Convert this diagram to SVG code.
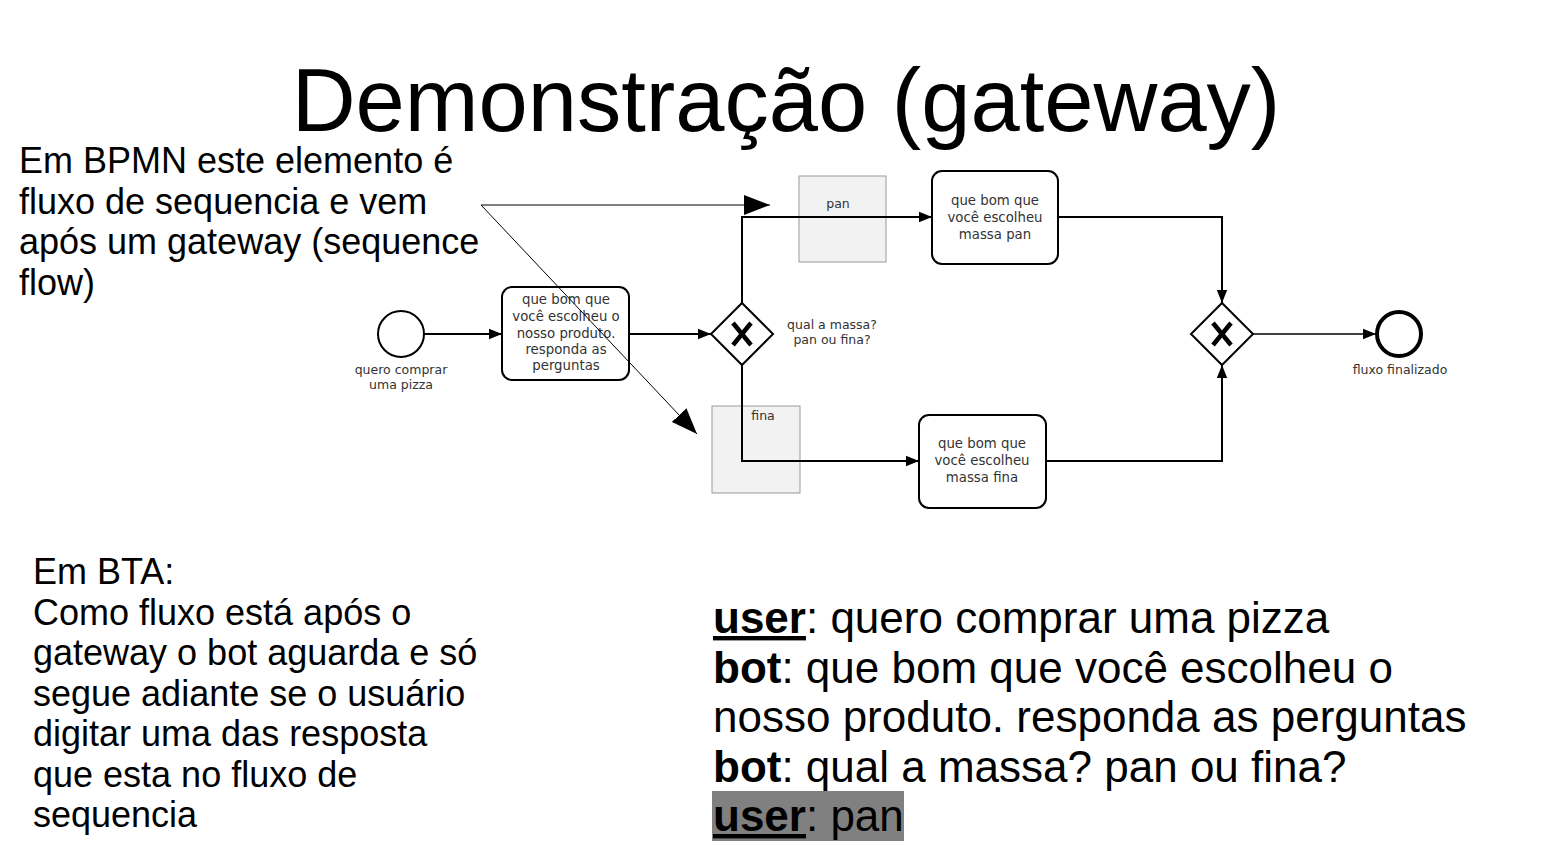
<svg xmlns="http://www.w3.org/2000/svg" width="1566" height="866" viewBox="0 0 1566 866">
<defs>
<marker id="arrA" viewBox="0 0 10 10" refX="10" refY="5" markerWidth="26" markerHeight="20" orient="auto" markerUnits="userSpaceOnUse" preserveAspectRatio="none">
<path d="M0,0 L10,5 L0,10 Z" fill="#000"/>
</marker>
<marker id="arrF" viewBox="0 0 10 10" refX="10" refY="5" markerWidth="13" markerHeight="13" orient="auto" markerUnits="userSpaceOnUse">
<path d="M0,1 L10,5 L0,9 Z" fill="#000"/>
</marker>
</defs>
<style>
.big{font-family:"Liberation Sans",Arial,sans-serif;fill:#000}
.sm{font-family:"DejaVu Sans",Verdana,sans-serif;font-size:12.5px;fill:#333;text-anchor:middle}
.tt{font-size:13.3px}
.task{fill:#fff;stroke:#000;stroke-width:2}
.lbl{fill:#f2f2f2;stroke:#999;stroke-width:1}
.flow{fill:none;stroke:#000;stroke-width:2}
.gw{fill:#fff;stroke:#000;stroke-width:2}
.x{fill:none;stroke:#000;stroke-width:4.5}
</style>
<rect width="1566" height="866" fill="#fff"/>
<text class="big" x="786" y="131" font-size="88.5" text-anchor="middle">Demonstração (gateway)</text>
<g id="note1">
<text class="big" font-size="36"><tspan x="19" y="173">Em BPMN este elemento é</tspan><tspan x="19" y="213.5">fluxo de sequencia e vem</tspan><tspan x="19" y="254">após um gateway (sequence</tspan><tspan x="19" y="294.5">flow)</tspan></text>
</g>
<g id="start">
<circle cx="401" cy="334" r="23" fill="#fff" stroke="#000" stroke-width="2"/>
<text class="sm"><tspan x="401" y="374">quero comprar</tspan><tspan x="401" y="389">uma pizza</tspan></text>
</g>
<g id="task1">
<rect class="task" x="502" y="287" width="127" height="93" rx="10"/>
<text class="sm tt"><tspan x="566" y="304">que bom que</tspan><tspan x="566" y="321">você escolheu o</tspan><tspan x="566" y="338">nosso produto.</tspan><tspan x="566" y="354">responda as</tspan><tspan x="566" y="370">perguntas</tspan></text>
</g>
<g id="labelPan">
<rect class="lbl" x="799" y="176" width="87" height="86"/>
<text class="sm" x="838" y="208">pan</text>
</g>
<g id="labelFina">
<rect class="lbl" x="712" y="406" width="88" height="87"/>
<text class="sm" x="763" y="420">fina</text>
</g>
<g id="connectors">
<path class="flow" d="M424,334 L502,334" marker-end="url(#arrF)"/>
<path class="flow" d="M629,334 L711,334" marker-end="url(#arrF)"/>
<path class="flow" d="M742,303 L742,217 L932,217" marker-end="url(#arrF)"/>
<path class="flow" d="M742,365 L742,461 L919,461" marker-end="url(#arrF)"/>
<path class="flow" d="M1058,217 L1222,217 L1222,303" marker-end="url(#arrF)"/>
<path class="flow" d="M1046,461 L1222,461 L1222,365" marker-end="url(#arrF)"/>
<path fill="none" stroke="#000" stroke-width="1.5" d="M1253,334 L1376,334" marker-end="url(#arrF)"/>
<path fill="none" stroke="#000" stroke-width="1" d="M481,205 L770,205" marker-end="url(#arrA)"/>
<path fill="none" stroke="#000" stroke-width="1" d="M481,205 L697,434" marker-end="url(#arrA)"/>
</g>
<g id="gateway1">
<path class="gw" d="M742,303 L773,334 L742,365 L711,334 Z"/>
<path class="x" d="M733,323 L751,345 M751,323 L733,345"/>
<text class="sm"><tspan x="832" y="329">qual a massa?</tspan><tspan x="832" y="344">pan ou fina?</tspan></text>
</g>
<g id="taskPan">
<rect class="task" x="932" y="171" width="126" height="93" rx="10"/>
<text class="sm tt"><tspan x="995" y="205">que bom que</tspan><tspan x="995" y="222">você escolheu</tspan><tspan x="995" y="239">massa pan</tspan></text>
</g>
<g id="taskFina">
<rect class="task" x="919" y="415" width="127" height="93" rx="10"/>
<text class="sm tt"><tspan x="982" y="448">que bom que</tspan><tspan x="982" y="465">você escolheu</tspan><tspan x="982" y="482">massa fina</tspan></text>
</g>
<g id="gateway2">
<path class="gw" d="M1222,303 L1253,334 L1222,365 L1191,334 Z"/>
<path class="x" d="M1213,323 L1231,345 M1231,323 L1213,345"/>
</g>
<g id="end">
<circle cx="1399" cy="334" r="22" fill="#fff" stroke="#000" stroke-width="4"/>
<text class="sm" x="1400" y="374">fluxo finalizado</text>
</g>
<g id="note2">
<text class="big" font-size="36"><tspan x="33" y="584">Em BTA:</tspan><tspan x="33" y="624.5">Como fluxo está após o</tspan><tspan x="33" y="665">gateway o bot aguarda e só</tspan><tspan x="33" y="705.5">segue adiante se o usuário</tspan><tspan x="33" y="746">digitar uma das resposta</tspan><tspan x="33" y="786.5">que esta no fluxo de</tspan><tspan x="33" y="827">sequencia</tspan></text>
</g>
<g id="dialog">
<rect x="712" y="791" width="192" height="50" fill="#808080"/>
<text class="big" font-size="44"><tspan x="713" y="633"><tspan font-weight="bold" text-decoration="underline">user</tspan>: quero comprar uma pizza</tspan><tspan x="713" y="682.5"><tspan font-weight="bold">bot</tspan>: que bom que você escolheu o</tspan><tspan x="713" y="732">nosso produto. responda as perguntas</tspan><tspan x="713" y="781.5"><tspan font-weight="bold">bot</tspan>: qual a massa? pan ou fina?</tspan><tspan x="713" y="831"><tspan font-weight="bold" text-decoration="underline">user</tspan>: pan</tspan></text>
</g>
</svg>
